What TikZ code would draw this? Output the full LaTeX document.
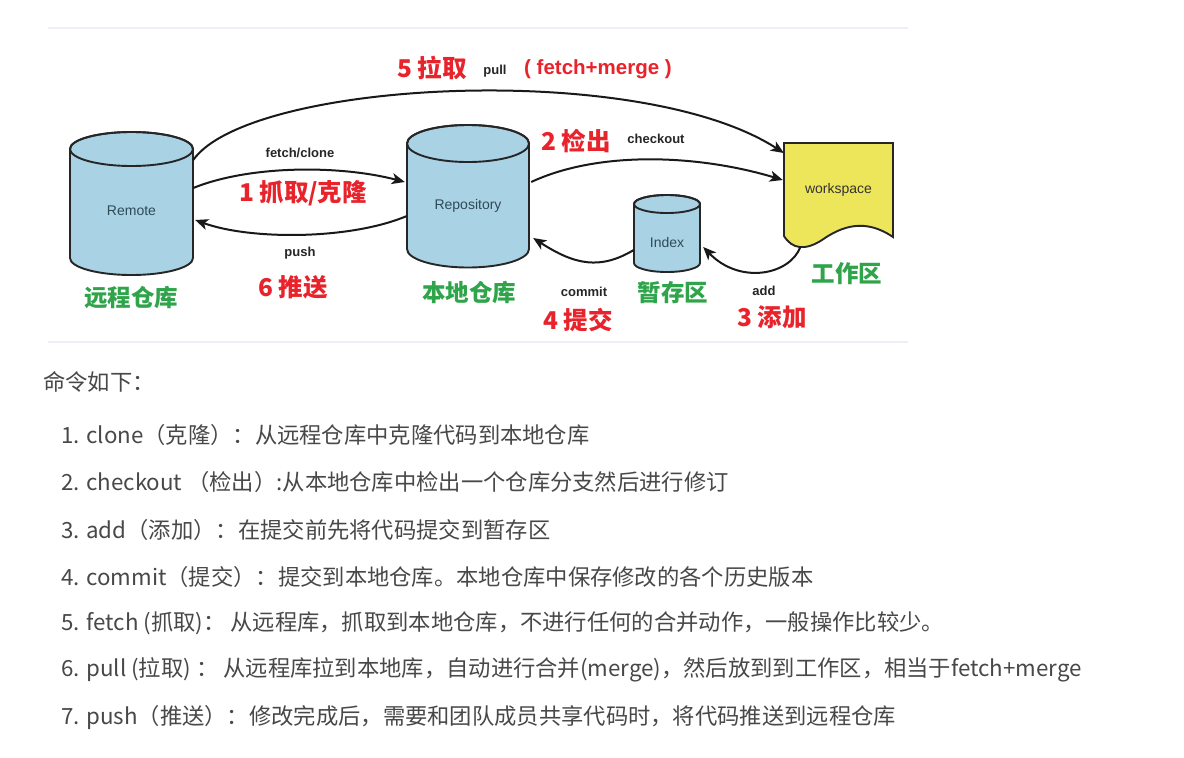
\documentclass[tikz,border=0pt]{standalone}
\usepackage{fontspec}
\setmainfont{Noto Sans CJK SC}
\newfontfamily\lsans{Liberation Sans}
\usetikzlibrary{arrows.meta}
\definecolor{cylblue}{HTML}{A9D3E5}
\definecolor{wsyellow}{HTML}{EEE65A}
\definecolor{lblred}{HTML}{E8232B}
\definecolor{lblgreen}{HTML}{2FA44A}
\definecolor{listgray}{HTML}{484848}
\definecolor{sepline}{HTML}{ECEFF5}
\definecolor{shapetext}{HTML}{2E4A57}
\newcommand\mycyl[5]{%
  \filldraw[cyl] ({#1-#4},#2) -- ({#1-#4},#3) arc[start angle=180,end angle=360,x radius=#4pt,y radius=#5pt] -- ({#1+#4},#2) arc[start angle=0,end angle=180,x radius=#4pt,y radius=#5pt] -- cycle;
  \draw[cyl,fill=none] (#1,#2) ellipse[x radius=#4pt,y radius=#5pt];}
\begin{document}
\begin{tikzpicture}[x=1pt,y=-1pt,
  cyl/.style={draw=black!85,line width=1.9pt,fill=cylblue},
  conn/.style={line width=2pt,draw=black!90,-{Stealth[length=13pt,width=11pt,inset=3.5pt]}},
  en/.style={font=\lsans\bfseries\fontsize{13}{15}\selectfont,text=black!85},
  redlbl/.style={font=\bfseries\fontsize{24.5}{28}\selectfont,text=lblred},
  greenlbl/.style={font=\bfseries\fontsize{23.5}{27}\selectfont,text=lblgreen},
  shapelbl/.style={font=\lsans\fontsize{14}{16}\selectfont,text=shapetext},
  listline/.style={anchor=west,font=\fontsize{22.3}{25}\selectfont,text=listgray,inner sep=0pt},
  sep/.style={draw=sepline,line width=2pt}]
\useasboundingbox[fill=white] (0,0) rectangle (1184,758);
% separators
\coordinate (s1a) at (48,28); \coordinate (s1b) at (908,28);
\coordinate (s2a) at (48,342); \coordinate (s2b) at (908,342);
\draw[sep] (s1a) -- (s1b);
\draw[sep] (s2a) -- (s2b);
% shapes
\mycyl{131.5}{149}{258}{61.5}{17}
\mycyl{468}{143.5}{249}{61}{18.5}
\mycyl{667}{204}{263}{33}{9}
\filldraw[draw=black!85,line width=1.9pt,fill=wsyellow] (784,143) -- (893,143) -- (893,237)
  .. controls (865,218) and (842,226) .. (822,240) .. controls (805,251) and (792,249) .. (784,236) -- cycle;
% nodes
\node[shapelbl,minimum width=123pt,minimum height=109pt] (remote) at (131.5,211) {Remote};
\node[shapelbl,minimum width=122pt,minimum height=105pt] (repo) at (468,206) {Repository};
\node[shapelbl,minimum width=66pt,minimum height=50pt] (index) at (667,242) {Index};
\node[shapelbl,text=black!80,minimum width=109pt,minimum height=93pt] (ws) at (838.5,190) {workspace};
% connectors
\draw[conn] ([yshift=51pt]remote.east) .. controls (250,80) and (640,60) .. ([yshift=37pt]ws.west);
\draw[conn] ([yshift=23pt]remote.east) .. controls (250,165) and (340,165) .. ([xshift=-2pt,yshift=24pt]repo.west);
\draw[conn] ([yshift=-10pt]repo.west) .. controls (350,240) and (250,240) .. ([xshift=2pt,yshift=-9pt]remote.east);
\draw[conn] ([xshift=2pt,yshift=24pt]repo.east) .. controls (600,150) and (700,155) .. ([xshift=-1pt,yshift=10pt]ws.west);
\draw[conn] ([yshift=-8pt]index.west) .. controls (600,270) and (575,265) .. ([xshift=4pt,yshift=-32pt]repo.east);
\draw[conn] ([xshift=-38pt,yshift=-10pt]ws.south) .. controls (790,275) and (740,285) .. ([xshift=3pt,yshift=-5pt]index.east);
% labels
\node[redlbl] (t5) at (432,68) {5 拉取};
\node[en] (tpull) at (495,71) {pull};
\node[font=\lsans\bfseries\fontsize{20.5}{23}\selectfont,text=lblred] (tfm) at (598,69) {( fetch+merge )};
\node[en] (tfc) at (300,153) {fetch/clone};
\node[redlbl] (t1) at (303,193) {1 抓取/克隆};
\node[en] (tpush) at (300,253) {push};
\node[redlbl] (t6) at (293,287) {6 推送};
\node[greenlbl] (gremote) at (131,298) {远程仓库};
\node[redlbl] (t2) at (576,141) {2 检出};
\node[en] (tco) at (656,139) {checkout};
\node[greenlbl] (grepo) at (469,293) {本地仓库};
\node[en] (tcommit) at (584,292) {commit};
\node[redlbl] (t4) at (578,320) {4 提交};
\node[greenlbl] (gindex) at (673,293) {暂存区};
\node[en] (tadd) at (764,291) {add};
\node[redlbl] (t3) at (772,317) {3 添加};
\node[greenlbl] (gws) at (847,274) {工作区};
% list
\node[listline] (l0) at (43,382) {命令如下：};
\node[listline] (l1) at (61,435) {1. clone（克隆）：从远程仓库中克隆代码到本地仓库};
\node[listline] (l2) at (61,482) {2. checkout （检出）:从本地仓库中检出一个仓库分支然后进行修订};
\node[listline] (l3) at (61,530) {3. add（添加）：在提交前先将代码提交到暂存区};
\node[listline] (l4) at (61,577) {4. commit（提交）：提交到本地仓库。本地仓库中保存修改的各个历史版本};
\node[listline] (l5) at (61,623) {5. fetch (抓取)： 从远程库，抓取到本地仓库，不进行任何的合并动作，一般操作比较少。};
\node[listline] (l6) at (61,670) {6. pull (拉取) ： 从远程库拉到本地库，自动进行合并(merge)，然后放到到工作区，相当于fetch+merge};
\node[listline] (l7) at (61,717) {7. push（推送）：修改完成后，需要和团队成员共享代码时，将代码推送到远程仓库};
\end{tikzpicture}
\end{document}
